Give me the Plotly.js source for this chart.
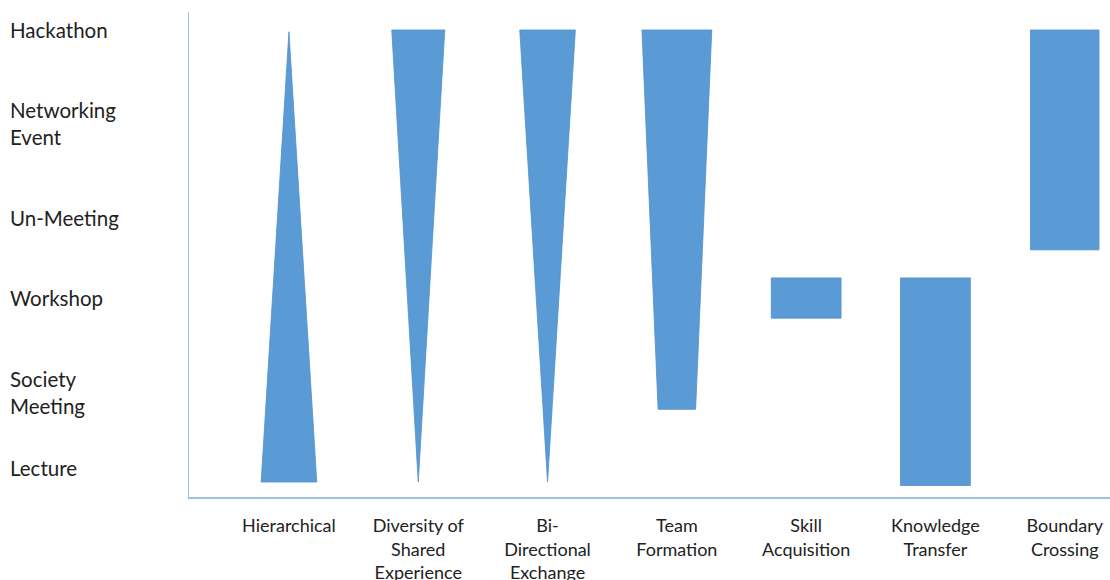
<!DOCTYPE html>
<html>
<head>
<meta charset="utf-8">
<script src="https://cdn.plot.ly/plotly-3.0.1.min.js"></script>
<style>html,body{margin:0;padding:0;background:#fff;}#chart{width:1110px;height:580px;}</style>
</head>
<body>
<div id="chart"></div>
<script>
// Event formats (y levels) and their positions on the level scale
const levels = ['Lecture', 'Society<br>Meeting', 'Workshop', 'Un-Meeting', 'Networking<br>Event', 'Hackathon'];
const levelPos = [0, 0.86, 1.94, 2.85, 3.93, 5.0];

// Outcome categories (x axis)
const categories = ['Hierarchical', 'Diversity of<br>Shared<br>Experience', 'Bi-<br>Directional<br>Exchange',
  'Team<br>Formation', 'Skill<br>Acquisition', 'Knowledge<br>Transfer', 'Boundary<br>Crossing'];

// Span of each outcome across the levels, with relative strength at top and bottom
const spanTop    = [4.98, 5.0, 5.0, 5.0, 2.17, 2.17, 5.0];
const spanBottom = [-0.16, -0.16, -0.16, 0.67, 1.71, -0.2, 2.49];
const widthTop    = [0, 0.41, 0.43, 0.54, 0.54, 0.54, 0.53];
const widthBottom = [0.43, 0, 0, 0.29, 0.54, 0.54, 0.53];

const FILL = '#5B9BD5';
const EDGE = '#4f8fcb';
const AXIS = '#9dc3e6';
const TEXT = '#222222';
const FONT = 'Lato, "Open Sans", sans-serif';

const traces = categories.map((c, i) => {
  const tl = i - widthTop[i] / 2, tr = i + widthTop[i] / 2;
  const br = i + widthBottom[i] / 2, bl = i - widthBottom[i] / 2;
  return {
    type: 'scatter', mode: 'lines', fill: 'toself',
    x: [tl, tr, br, bl, tl],
    y: [spanTop[i], spanTop[i], spanBottom[i], spanBottom[i], spanTop[i]],
    fillcolor: FILL, line: {color: EDGE, width: 0.8},
    hoverinfo: 'skip', showlegend: false
  };
});

const annotations = levels.map((l, i) => ({
  xref: 'paper', yref: 'y', x: -0.197, y: levelPos[i],
  xanchor: 'left', yanchor: 'middle', align: 'left',
  text: l, showarrow: false,
  font: {family: FONT, size: 20.5, color: TEXT}
}));

const layout = {
  width: 1110, height: 580,
  margin: {l: 189, r: 0, t: 12, b: 83},
  paper_bgcolor: '#fff', plot_bgcolor: '#fff',
  showlegend: false,
  xaxis: {
    range: [-0.773, 6.35],
    tickmode: 'array', tickvals: categories.map((_, i) => i), ticktext: categories,
    showgrid: false, zeroline: false,
    showline: true, linecolor: AXIS, linewidth: 1.5,
    ticks: 'outside', ticklen: 12, tickcolor: 'rgba(0,0,0,0)',
    tickfont: {family: FONT, size: 18, color: TEXT},
    fixedrange: true
  },
  yaxis: {
    range: [-0.331, 5.205],
    showgrid: false, zeroline: false, showticklabels: false, ticks: '',
    showline: true, linecolor: AXIS, linewidth: 1.5,
    fixedrange: true
  },
  annotations: annotations
};

Plotly.newPlot('chart', traces, layout, {displayModeBar: false, staticPlot: true});
</script>
</body>
</html>
